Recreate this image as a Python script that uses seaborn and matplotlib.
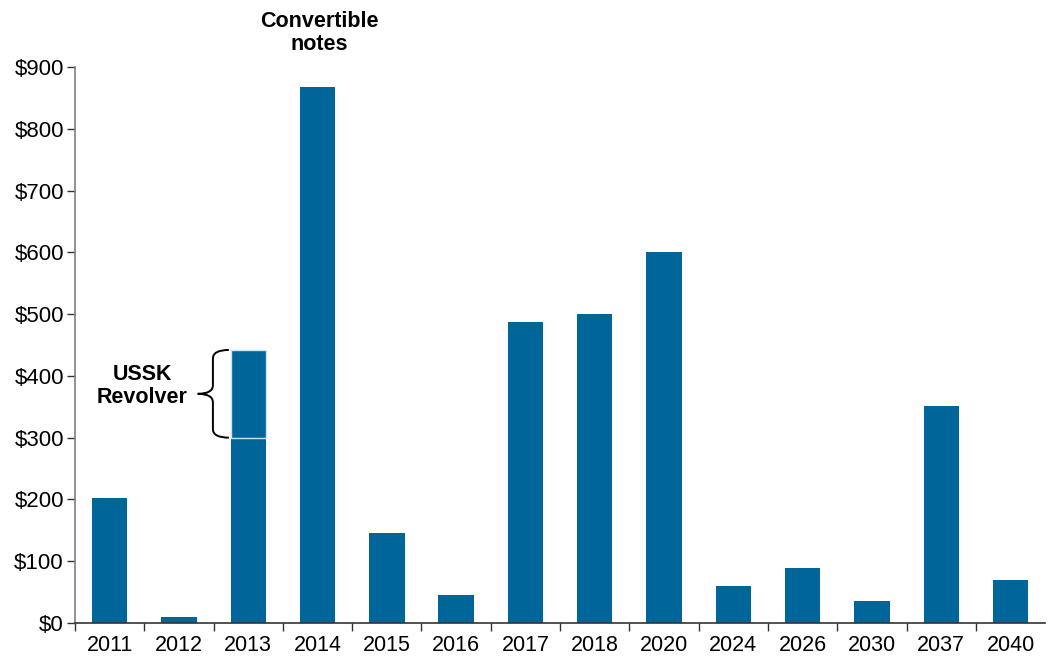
import matplotlib
matplotlib.use("Agg")
import matplotlib.pyplot as plt
from matplotlib.path import Path
from matplotlib.patches import PathPatch
import seaborn as sns
import pandas as pd
import numpy as np

# Datos de vencimientos de deuda (millones de dólares)
years = ["2011", "2012", "2013", "2014", "2015", "2016", "2017",
         "2018", "2020", "2024", "2026", "2030", "2037", "2040"]
maturities = [203, 9, 300, 867, 146, 45, 487, 500, 600, 60, 89, 36, 352, 70]
revolver_year = "2013"
revolver_amount = 142
yticks = [0, 100, 200, 300, 400, 500, 600, 700, 800, 900]

bar_color = "#006699"

sns.set_theme(style="white")
plt.rcParams["font.family"] = ["Liberation Sans", "DejaVu Sans"]
plt.rcParams["text.color"] = "black"
plt.rcParams["xtick.color"] = "black"
plt.rcParams["ytick.color"] = "black"

df = pd.DataFrame({"year": years, "amount": maturities})

fig = plt.figure(figsize=(10.52, 6.61), dpi=100)
ax = fig.add_axes([0.0713, 0.0575, 0.9222, 0.8411])

sns.barplot(data=df, x="year", y="amount", color=bar_color, saturation=1,
            width=0.51, ax=ax, edgecolor="none")

# Segmento superior del revolver USSK
pos = years.index(revolver_year)
base = maturities[pos]
ax.bar(pos, revolver_amount, bottom=base, width=0.51, color=bar_color,
       edgecolor="#cfe3ee", linewidth=1.0)

ax.set_xlim(-0.5, len(years) - 0.5)
ax.set_ylim(0, 900)
ax.set_yticks(yticks)
ax.set_yticklabels([f"${v}" for v in yticks])
ax.set_xlabel("")
ax.set_ylabel("")

# Marcas del eje x entre categorías
ax.set_xticks(np.arange(-0.5, len(years) - 0.5, 1.0), minor=True)
ax.tick_params(axis="x", which="major", length=0, labelsize=15.5, pad=9,
               labelcolor="black")
ax.tick_params(axis="x", which="minor", length=6, width=1, direction="out",
               color="#333333", bottom=True)
ax.tick_params(axis="y", length=6, width=1, direction="out", labelsize=16,
               left=True, color="#333333", pad=2, labelcolor="black")

for side in ["top", "right"]:
    ax.spines[side].set_visible(False)
ax.spines["left"].set_color("#808080")
ax.spines["bottom"].set_color("#333333")
ax.spines["left"].set_linewidth(1.2)
ax.spines["bottom"].set_linewidth(1.2)

# Llave para el revolver
top = base + revolver_amount
mid = base + revolver_amount / 2
xr, xv, xt = 1.72, 1.49, 1.27
r = 14
verts = [
    (xr, top), (xv, top), (xv, top - r),
    (xv, mid + r), (xv, mid), (xt, mid),
    (xv, mid), (xv, mid - r),
    (xv, base + r), (xv, base), (xr, base),
]
codes = [Path.MOVETO, Path.CURVE3, Path.CURVE3,
         Path.LINETO, Path.CURVE3, Path.CURVE3,
         Path.CURVE3, Path.CURVE3,
         Path.LINETO, Path.CURVE3, Path.CURVE3]
ax.add_patch(PathPatch(Path(verts, codes), facecolor="none",
                       edgecolor="black", linewidth=1.4, clip_on=False))

ax.text(0.47, 384, "USSK\nRevolver", ha="center", va="center",
        fontsize=15.5, fontweight="bold", linespacing=1.15)
ax.text(3.03, 955, "Convertible\nnotes", ha="center", va="center",
        fontsize=15.5, fontweight="bold", linespacing=1.15, clip_on=False)

fig.savefig("out.png", dpi=100)
